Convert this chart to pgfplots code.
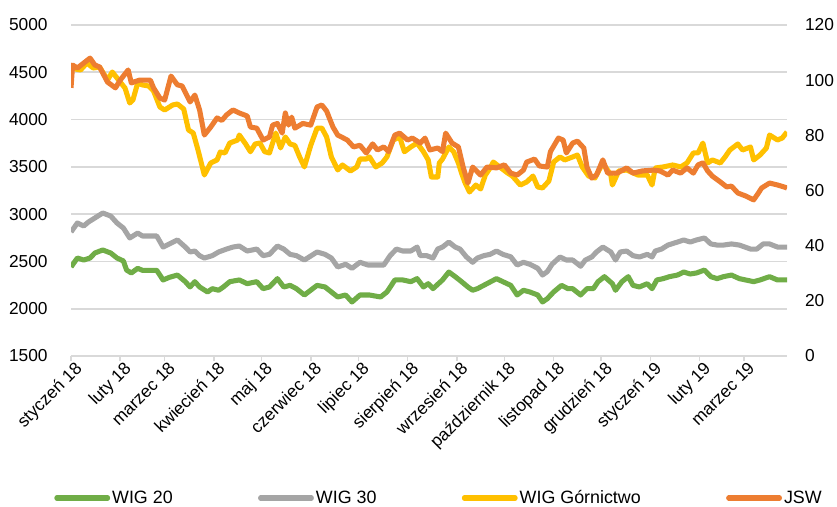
\documentclass[border=0pt]{standalone}
\usepackage{pgfplots}
\pgfplotsset{compat=1.18}
\usepackage{fontspec}
\setmainfont{Liberation Sans}
\definecolor{cgreen}{HTML}{70AD47}
\definecolor{cgray}{HTML}{A5A5A5}
\definecolor{cyellow}{HTML}{FFC000}
\definecolor{corange}{HTML}{ED7D31}
\definecolor{gridgray}{HTML}{D9D9D9}
\newcommand\lab{\fontsize{13}{15}\selectfont}
\newcommand\leglab{\fontsize{13.4}{15}\selectfont}

\pgfplotstableread{
d v
0 2441
4 2536
8 2515
12 2536
15 2589
20 2621
25 2589
29 2536
33 2505
35 2409
38 2378
42 2427
45 2406
54 2406
58 2304
62 2332
67 2356
72 2286
75 2230
78 2286
81 2230
86 2177
89 2212
93 2195
96 2230
100 2286
106 2304
111 2265
117 2286
121 2212
125 2230
130 2318
134 2230
138 2247
142 2212
147 2145
155 2247
160 2230
168 2124
173 2145
177 2071
182 2145
188 2145
195 2124
199 2177
204 2304
209 2304
214 2286
218 2318
222 2230
225 2265
228 2212
234 2304
238 2388
242 2339
246 2286
250 2230
253 2195
256 2212
262 2265
268 2318
272 2286
277 2247
281 2145
285 2195
289 2177
294 2145
297 2071
300 2106
304 2177
309 2247
313 2212
316 2212
321 2145
325 2212
329 2212
332 2286
336 2339
341 2265
343 2195
347 2286
351 2339
354 2247
358 2230
363 2265
366 2212
369 2304
373 2318
377 2339
382 2356
386 2388
390 2367
394 2378
399 2409
403 2339
407 2318
411 2339
416 2356
421 2318
430 2286
434 2304
440 2339
445 2304
451 2304
}\wigtwenty

\pgfplotstableread{
d v
0 2811
4 2906
8 2875
11 2917
15 2959
20 3012
25 2980
29 2906
33 2853
37 2748
42 2800
45 2769
54 2769
58 2652
62 2685
67 2727
72 2652
75 2600
78 2610
81 2561
84 2536
89 2561
93 2600
98 2631
102 2652
106 2663
111 2610
117 2631
121 2561
125 2575
130 2663
134 2631
138 2575
142 2561
147 2515
155 2600
160 2575
164 2536
168 2441
173 2470
177 2427
182 2491
187 2462
193 2462
197 2462
201 2561
205 2631
209 2610
214 2610
218 2652
220 2561
224 2561
228 2536
231 2631
234 2652
238 2705
242 2652
245 2631
249 2549
253 2491
256 2536
260 2561
264 2575
268 2610
272 2575
277 2549
281 2462
285 2491
289 2470
294 2427
297 2356
300 2392
303 2470
308 2547
312 2515
316 2515
321 2449
324 2515
328 2547
331 2600
335 2652
340 2600
343 2515
346 2600
350 2610
354 2561
358 2547
363 2575
366 2547
368 2610
372 2631
376 2673
382 2705
386 2727
390 2705
394 2727
399 2748
403 2685
407 2673
411 2673
416 2685
421 2673
428 2631
432 2631
436 2685
440 2685
445 2652
451 2652
}\wigthirty

\pgfplotstableread{
d v
0 4545
6 4524
10 4598
14 4545
18 4556
23 4418
26 4503
30 4418
34 4334
37 4175
39 4207
42 4387
45 4366
49 4355
52 4302
56 4133
59 4101
64 4154
67 4165
71 4112
74 3890
77 3858
80 3678
84 3414
88 3541
92 3573
94 3657
97 3647
100 3752
105 3784
106 3837
110 3742
113 3660
116 3742
119 3752
122 3660
125 3647
129 3858
132 3700
135 3816
138 3742
141 3727
144 3605
147 3499
151 3727
155 3910
158 3910
161 3816
164 3605
168 3467
171 3520
176 3456
180 3499
182 3583
186 3583
188 3605
192 3499
196 3541
199 3605
203 3784
207 3816
210 3660
214 3710
218 3752
222 3660
225 3573
227 3393
231 3393
232 3541
234 3583
238 3710
241 3660
244 3541
246 3435
248 3340
251 3234
255 3308
258 3266
261 3414
264 3488
266 3551
270 3499
275 3435
278 3403
283 3308
287 3340
291 3403
294 3287
297 3277
301 3350
304 3551
308 3605
311 3573
316 3605
319 3625
322 3499
326 3403
330 3382
335 3541
340 3414
341 3308
345 3456
350 3467
357 3414
363 3414
366 3308
368 3488
373 3499
379 3520
384 3499
388 3541
392 3647
395 3647
398 3752
401 3541
404 3573
409 3541
412 3605
415 3678
420 3742
423 3678
428 3710
430 3573
434 3625
438 3699
440 3837
445 3784
448 3805
451 3869
}\wiggorn

\pgfplotstableread{
d v
0 97.2
1 105.5
4 104.4
8 106.2
12 108.0
15 105.5
18 104.8
23 99.3
28 97.2
31 100.0
36 103.7
38 99.0
43 100.0
50 100.0
52 97.2
56 93.5
59 92.8
63 101.5
67 98.3
70 97.9
75 92.1
78 94.6
81 89.2
84 80.1
88 83.0
92 86.3
95 85.4
98 87.4
102 89.2
106 88.1
111 87.0
113 83.0
117 82.6
121 78.3
125 79.4
127 83.7
130 84.3
133 80.8
135 88.1
137 83.7
139 86.6
141 82.6
146 84.3
151 83.7
155 90.3
158 91.0
161 88.8
165 83.0
168 80.1
174 78.3
178 75.8
182 76.4
186 73.6
190 76.9
193 74.7
197 75.8
200 74.1
204 80.1
207 80.8
212 78.3
215 79.0
220 77.2
223 79.0
226 74.7
231 75.4
234 74.1
236 80.8
240 77.2
244 75.8
247 68.5
250 62.7
253 68.5
258 65.6
262 68.5
268 68.2
273 69.3
277 66.3
281 65.6
285 67.4
287 70.3
292 71.4
295 68.9
300 68.5
302 74.1
307 79.0
310 78.3
312 73.6
316 77.2
319 77.9
323 75.4
325 68.5
328 64.5
331 65.6
335 71.1
338 66.3
344 66.3
350 68.2
354 66.3
360 67.1
367 67.4
371 67.1
376 65.6
379 67.4
384 66.3
388 68.2
392 66.3
395 69.3
398 70.0
401 67.1
404 65.2
409 63.1
413 61.3
416 61.6
420 59.1
425 58.0
430 56.6
433 59.1
435 60.9
440 62.7
445 62.0
449 61.3
451 60.9
}\jsw

\begin{document}
\begin{tikzpicture}
\useasboundingbox (-53.25pt,-112.5pt) rectangle (574.5pt,267pt);
\begin{axis}[
  at={(0,0)}, anchor=south west,
  scale only axis, width=537pt, height=248.25pt,
  xmin=0, xmax=451, ymin=1500, ymax=5000,
  ytick={1500,2000,...,5000},
  xtick={0,31,59,90,120,151,181,212,243,273,304,334,365,396,424},
  xticklabels={styczeń 18,luty 18,marzec 18,kwiecień 18,maj 18,czerwiec 18,lipiec 18,sierpień 18,wrzesień 18,październik 18,listopad 18,grudzień 18,styczeń 19,luty 19,marzec 19},
  axis x line*=bottom, axis y line*=left,
  x axis line style={draw=gridgray, line width=1.2pt, -},
  y axis line style={draw=none},
  ymajorgrids, grid style={gridgray, line width=1.2pt},
  xtick style={draw=gridgray, line width=1.2pt},
  ytick style={draw=none},
  tick align=outside, major tick length=4pt,
  /pgf/number format/assume math mode=true,
  /pgf/number format/1000 sep={},
  yticklabel style={font=\lab, anchor=east, xshift=-10pt},
  xticklabel style={font=\lab, rotate=45, anchor=north east, inner sep=1pt, xshift=3pt},
  legend columns=4,
  legend style={draw=none, fill=none, at={(-0.0237,-0.429)}, anchor=west, inner sep=0pt, font=\leglab,
    nodes={inner xsep=1.5pt, inner ysep=0pt},
    /tikz/every even column/.append style={column sep=62.5pt}},
  legend image code/.code={\draw[#1, line width=3.8pt, line cap=round] (1.9pt,0pt) -- (40pt,0pt);},
  legend cell align=left,
  line join=round,
]
\addplot[cgreen, line width=3.8pt] table[x=d, y=v] {\wigtwenty};
\addlegendentry{WIG 20}
\addplot[cgray, line width=3.8pt] table[x=d, y=v] {\wigthirty};
\addlegendentry{WIG 30}
\addplot[cyellow, line width=3.8pt] table[x=d, y=v] {\wiggorn};
\addlegendentry{WIG Górnictwo}
\addlegendimage{corange, line width=3.8pt}
\addlegendentry{JSW}
\end{axis}
\begin{axis}[
  at={(0,0)}, anchor=south west,
  scale only axis, width=537pt, height=248.25pt,
  xmin=0, xmax=451, ymin=0, ymax=120,
  ytick={0,20,...,120},
  axis x line=none, axis y line*=right,
  y axis line style={draw=none, -},
  ytick style={draw=none},
  /pgf/number format/assume math mode=true,
  yticklabel style={font=\lab, anchor=west, xshift=10pt},
  line join=round,
]
\addplot[corange, line width=3.8pt] table[x=d, y=v] {\jsw};
\end{axis}
\end{tikzpicture}
\end{document}
